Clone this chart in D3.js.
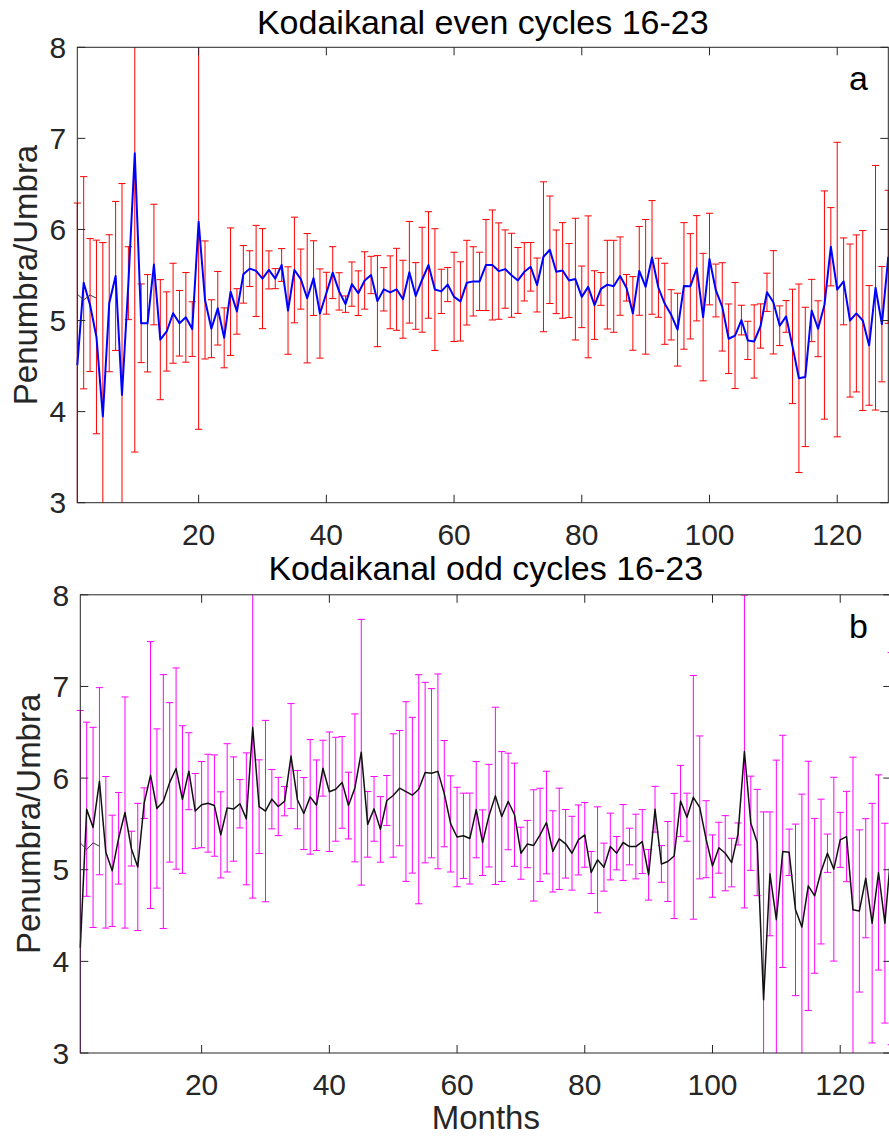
<!DOCTYPE html>
<html>
<head>
<meta charset="utf-8">
<script src="https://cdn.jsdelivr.net/npm/d3@7"></script>
<style>
  html, body { margin: 0; padding: 0; background: #fff; }
  svg { display: block; }
  text { font-family: "Liberation Sans", Arial, Helvetica, sans-serif; }
</style>
</head>
<body>
<svg id="chart" width="889" height="1137"></svg>
<script>
// ---------------- data ----------------
const xTicks = [20, 40, 60, 80, 100, 120];
const yTicks = [3, 4, 5, 6, 7, 8];

const evenValues = [
  4.51, 5.415, 5.17, 4.82, 3.946, 5.19, 5.49, 4.184, 5.41, 6.836,
  4.97, 4.97, 5.615, 4.79, 4.88, 5.08, 4.97, 5.035, 4.906, 6.086,
  5.226, 4.91, 5.135, 4.81, 5.317, 5.10, 5.507, 5.57, 5.545, 5.46,
  5.556, 5.46, 5.61, 5.11, 5.555, 5.455, 5.245, 5.466, 5.077, 5.30,
  5.526, 5.32, 5.18, 5.40, 5.30, 5.44, 5.50, 5.213, 5.343, 5.31,
  5.343, 5.234, 5.53, 5.27, 5.448, 5.61, 5.34, 5.32, 5.395, 5.26,
  5.21, 5.416, 5.43, 5.43, 5.61, 5.61, 5.543, 5.565, 5.497, 5.44,
  5.535, 5.59, 5.39, 5.70, 5.777, 5.535, 5.55, 5.44, 5.455, 5.26,
  5.37, 5.17, 5.347, 5.394, 5.376, 5.488, 5.36, 5.078, 5.545, 5.37,
  5.693, 5.36, 5.184, 5.063, 4.90, 5.38, 5.376, 5.574, 5.038, 5.675,
  5.33, 5.15, 4.80, 4.835, 5.005, 4.782, 4.77, 4.94, 5.31, 5.20,
  4.943, 5.045, 4.716, 4.366, 4.381, 5.11, 4.91, 5.17, 5.81, 5.34,
  5.43, 5.00, 5.078, 5.00, 4.727, 5.36, 4.96, 5.70
];
const evenErrors = [
  1.78, 1.165, 0.73, 1.063, 1.91, 0.752, 0.818, 2.32, 0.40, 3.28,
  0.432, 0.534, 0.662, 0.659, 0.435, 0.549, 0.36, 0.492, 0.30, 2.28,
  0.648, 0.318, 0.404, 0.329, 0.70, 0.25, 0.316, 0.196, 0.50, 0.549,
  0.209, 0.11, 0.18, 0.48, 0.58, 0.33, 0.71, 0.41, 0.49, 0.23,
  0.285, 0.205, 0.09, 0.243, 0.245, 0.315, 0.205, 0.50, 0.238, 0.40,
  0.45, 0.428, 0.558, 0.366, 0.576, 0.585, 0.668, 0.243, 0.187, 0.49,
  0.435, 0.465, 0.38, 0.32, 0.50, 0.604, 0.529, 0.43, 0.461, 0.362,
  0.32, 0.267, 0.296, 0.823, 0.59, 0.459, 0.525, 0.406, 0.668, 0.338,
  0.779, 0.377, 0.18, 0.487, 0.505, 0.43, 0.146, 0.404, 0.487, 0.739,
  0.624, 0.324, 0.445, 0.276, 0.40, 0.695, 0.578, 0.578, 0.70, 0.503,
  0.29, 0.485, 0.382, 0.582, 0.163, 0.21, 0.402, 0.243, 0.21, 0.567,
  0.218, 0.174, 0.628, 1.035, 0.765, 0.342, 0.307, 1.253, 0.43, 1.617,
  0.477, 0.84, 0.862, 0.988, 0.657, 1.343, 0.633, 0.73
];

const oddValues = [
  4.148, 5.66, 5.462, 5.966, 5.19, 4.988, 5.343, 5.624, 5.23, 5.03,
  5.726, 6.033, 5.668, 5.744, 5.953, 6.104, 5.766, 6.075, 5.64, 5.71,
  5.726, 5.70, 5.38, 5.675, 5.662, 5.72, 5.555, 6.555, 5.688, 5.64,
  5.77, 5.69, 5.748, 6.24, 5.764, 5.613, 5.795, 5.704, 6.108, 5.851,
  5.878, 5.953, 5.70, 5.893, 6.282, 5.495, 5.664, 5.44, 5.755, 5.81,
  5.89, 5.853, 5.813, 5.878, 6.06, 6.053, 6.073, 5.83, 5.50, 5.357,
  5.37, 5.34, 5.655, 5.295, 5.59, 5.806, 5.58, 5.745, 5.60, 5.18,
  5.28, 5.265, 5.38, 5.515, 5.20, 5.337, 5.283, 5.18, 5.325, 5.38,
  4.97, 5.108, 5.028, 5.253, 5.18, 5.297, 5.253, 5.253, 5.307, 4.944,
  5.66, 5.063, 5.09, 5.15, 5.75, 5.573, 5.79, 5.68, 5.333, 5.04,
  5.24, 5.18, 5.078, 5.39, 6.29, 5.507, 5.297, 3.581, 4.955, 4.454,
  5.20, 5.19, 4.562, 4.374, 4.824, 4.715, 4.98, 5.18, 5.006, 5.326,
  5.362, 4.562, 4.55, 4.907, 4.417, 4.97, 4.417, 5.23
];
const oddErrors = [
  2.59, 0.95, 1.092, 1.021, 0.827, 0.607, 0.50, 1.261, 0.19, 0.694,
  0.167, 1.456, 0.869, 1.385, 0.87, 1.098, 0.805, 0.42, 0.41, 0.47,
  0.534, 0.553, 0.47, 0.70, 0.569, 0.264, 0.72, 1.865, 0.511, 0.99,
  0.324, 0.318, 0.16, 0.573, 0.318, 0.393, 0.625, 0.494, 0.305, 0.652,
  0.567, 0.50, 0.364, 0.807, 1.45, 0.358, 0.353, 0.358, 0.273, 0.673,
  0.629, 0.98, 0.85, 1.25, 0.985, 0.923, 1.063, 0.58, 0.525, 0.543,
  0.465, 0.496, 0.525, 0.358, 0.56, 0.967, 0.709, 0.527, 0.563, 0.284,
  0.258, 0.607, 0.509, 0.56, 0.443, 0.553, 0.374, 0.403, 0.382, 0.353,
  0.229, 0.578, 0.262, 0.364, 0.182, 0.414, 0.20, 0.353, 0.349, 0.276,
  0.25, 0.20, 0.436, 0.683, 0.389, 0.262, 1.33, 0.78, 0.42, 0.34,
  0.278, 0.41, 0.265, 0.12, 1.707, 0.514, 0.58, 2.05, 0.676, 1.742,
  1.267, 0.253, 0.936, 1.451, 1.36, 0.845, 0.79, 0.209, 1.003, 0.30,
  0.493, 1.666, 0.885, 0.65, 1.307, 1.065, 1.09, 2.14
];

// short dark trace visible at the start of each panel
const evenTrace = [5.29, 5.226, 5.28, 5.245];
const oddTrace = [5.293, 5.22, 5.293, 5.257];

const months = evenValues.map((_, i) => i + 1);

// ---------------- drawing ----------------
const svg = d3.select("#chart");
const AXC = "#262626";
const FONT_TICK = 30;

function drawPanel(p) {
  const x = d3.scaleLinear().domain([1, 128]).range([p.x0, p.x1]);
  const y = d3.scaleLinear().domain([3, 8]).range([p.yBottom, p.yTop]);
  const g = svg.append("g");

  const clipId = "clip-" + p.id;
  svg.append("clipPath").attr("id", clipId)
    .append("rect")
    .attr("x", p.x0 - 6).attr("y", p.yTop)
    .attr("width", p.x1 - p.x0 + 12).attr("height", p.yBottom - p.yTop);

  const data = months.map((m, i) => ({ m, v: p.values[i], e: p.errors[i] }));
  const plot = g.append("g").attr("clip-path", `url(#${clipId})`);

  // error bars
  const cap = 3.6;
  const bars = plot.append("g").attr("stroke", p.barColor).attr("stroke-width", 1).attr("fill", "none");
  data.forEach(d => {
    const cx = x(d.m), yl = y(d.v - d.e), yu = y(d.v + d.e);
    bars.append("line").attr("x1", cx).attr("x2", cx).attr("y1", yl).attr("y2", yu);
    bars.append("line").attr("x1", cx - cap).attr("x2", cx + cap).attr("y1", yl).attr("y2", yl);
    bars.append("line").attr("x1", cx - cap).attr("x2", cx + cap).attr("y1", yu).attr("y2", yu);
  });

  // main line
  plot.append("path")
    .datum(data)
    .attr("fill", "none")
    .attr("stroke", p.lineColor)
    .attr("stroke-width", p.lineWidth)
    .attr("stroke-linejoin", "round")
    .attr("d", d3.line().x(d => x(d.m)).y(d => y(d.v)));

  // short trace
  plot.append("path")
    .datum(p.trace.map((v, i) => ({ m: months[i], v })))
    .attr("fill", "none")
    .attr("stroke", "#3a3a3a")
    .attr("stroke-width", 1)
    .attr("d", d3.line().x(d => x(d.m)).y(d => y(d.v)));

  // axes box
  g.append("rect")
    .attr("x", p.x0).attr("y", p.yTop)
    .attr("width", p.x1 - p.x0).attr("height", p.yBottom - p.yTop)
    .attr("fill", "none").attr("stroke", AXC).attr("stroke-width", 1);

  const tl = 8;
  const ticks = g.append("g").attr("stroke", AXC).attr("stroke-width", 1);
  xTicks.forEach(t => {
    ticks.append("line").attr("x1", x(t)).attr("x2", x(t)).attr("y1", p.yBottom).attr("y2", p.yBottom - tl);
    ticks.append("line").attr("x1", x(t)).attr("x2", x(t)).attr("y1", p.yTop).attr("y2", p.yTop + tl);
  });
  yTicks.forEach(t => {
    ticks.append("line").attr("x1", p.x0).attr("x2", p.x0 + tl).attr("y1", y(t)).attr("y2", y(t));
    ticks.append("line").attr("x1", p.x1).attr("x2", p.x1 - tl).attr("y1", y(t)).attr("y2", y(t));
  });

  // tick labels
  xTicks.forEach(t => {
    g.append("text").attr("x", x(t)).attr("y", p.yBottom + 42)
      .attr("text-anchor", "middle").attr("font-size", FONT_TICK).attr("fill", AXC)
      .text(t);
  });
  yTicks.forEach(t => {
    g.append("text").attr("x", p.x0 - 11).attr("y", y(t) + 0.358 * FONT_TICK)
      .attr("text-anchor", "end").attr("font-size", FONT_TICK).attr("fill", AXC)
      .text(t);
  });

  // y label
  const cy = (p.yTop + p.yBottom) / 2;
  g.append("text")
    .attr("transform", `translate(${p.ylabelX},${cy}) rotate(-90)`)
    .attr("text-anchor", "middle").attr("font-size", 33).attr("fill", AXC)
    .text("Penumbra/Umbra");

  // title
  g.append("text")
    .attr("x", (p.x0 + p.x1) / 2).attr("y", p.titleY)
    .attr("text-anchor", "middle").attr("font-size", 34).attr("fill", "#000")
    .text(p.title);

  // panel letter
  g.append("text")
    .attr("x", 849).attr("y", p.letterY)
    .attr("font-size", 34).attr("fill", "#000")
    .text(p.letter);

  if (p.xlabel) {
    g.append("text")
      .attr("x", (p.x0 + p.x1) / 2).attr("y", p.yBottom + 76)
      .attr("text-anchor", "middle").attr("font-size", 33).attr("fill", AXC)
      .text(p.xlabel);
  }
}

drawPanel({
  id: "a", x0: 77.3, x1: 888.3, yTop: 47.3, yBottom: 502.7,
  values: evenValues, errors: evenErrors, trace: evenTrace,
  barColor: "#ff0000", lineColor: "#0000ff", lineWidth: 2,
  title: "Kodaikanal even cycles 16-23", titleY: 34, letter: "a", letterY: 90,
  ylabelX: 36.5
});

drawPanel({
  id: "b", x0: 80.3, x1: 891.3, yTop: 594.8, yBottom: 1053,
  values: oddValues, errors: oddErrors, trace: oddTrace,
  barColor: "#ff00ff", lineColor: "#111111", lineWidth: 1.5,
  title: "Kodaikanal odd cycles 16-23", titleY: 579.5, letter: "b", letterY: 638,
  ylabelX: 40, xlabel: "Months"
});
</script>
</body>
</html>
